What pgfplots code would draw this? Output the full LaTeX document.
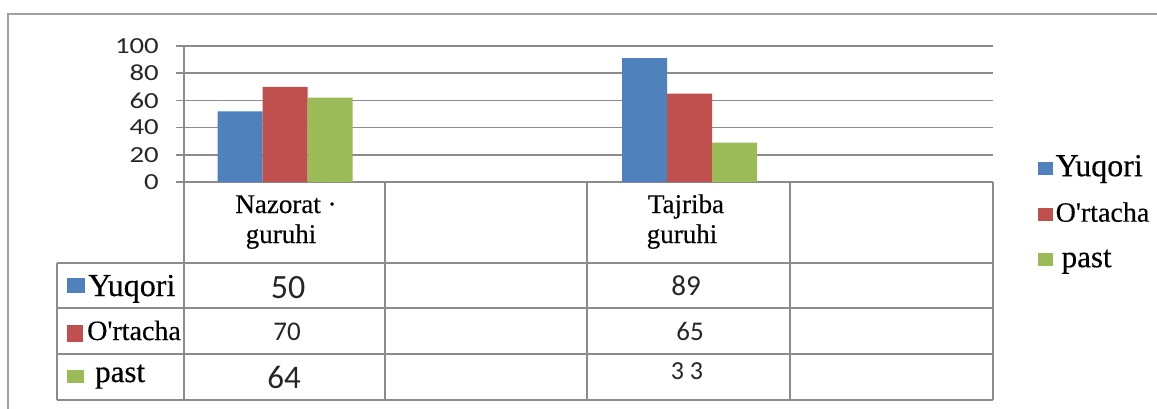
\documentclass[border=0pt]{standalone}
\usepackage{fontspec}
\setmainfont[FakeBold=0.35]{Liberation Serif}
\newfontfamily\numfont{Carlito}
\newfontfamily\tickfont[FakeStretch=1.25]{Carlito}
\usepackage{pgfplots}
\pgfplotsset{compat=1.18}
\definecolor{cblue}{HTML}{4F81BD}
\definecolor{cred}{HTML}{C0504D}
\definecolor{cgreen}{HTML}{9BBB59}
\definecolor{lgray}{RGB}{140,140,140}
\definecolor{fgray}{RGB}{160,160,160}
\begin{document}
\begin{tikzpicture}[x=1pt,y=1pt]
\useasboundingbox (0,0) rectangle (1157,408);
% outer frame (cut by the page on the right and bottom)
\draw[fgray, line width=1.5pt] (8,-5) -- (8,394) -- (1165,394);
\begin{axis}[
  at={(184pt,226pt)}, anchor=south west,
  scale only axis, width=809pt, height=136pt,
  xmin=-0.5, xmax=3.5, ymin=0, ymax=100,
  axis x line=none, axis y line*=left,
  xtick=\empty,
  ytick={0,20,40,60,80,100},
  ymajorgrids, major grid style={lgray, line width=1.5pt},
  axis line style={lgray, line width=1.5pt},
  tick style={lgray, line width=1.5pt},
  tick align=outside, major tick length=8pt,
  /pgf/number format/assume math mode=true,
  yticklabel style={font=\tickfont\fontsize{23}{23}\selectfont, text=black!85, anchor=east, inner sep=0pt, xshift=-17pt},
  ybar=0pt, bar width=45pt,
  legend style={at={(1.0556,0.2059)}, anchor=north west, draw=none, fill=none,
    inner sep=0pt, row sep=16.5pt, font=\fontsize{32}{32}\selectfont,
    nodes={inner sep=0pt, inner xsep=2.5pt, text height=22pt, text depth=7pt}},
  legend cell align=left,
]
\addplot[fill=cblue, draw=none, legend image code/.code={\fill[cblue] (0pt,-6.5pt) rectangle (15pt,6.5pt);}]
  coordinates {(0,52) (2,91)};
\addlegendentry{Yuqori}
\addplot[fill=cred, draw=none, legend image code/.code={\fill[cred] (0pt,-6.5pt) rectangle (15pt,6.5pt);}]
  coordinates {(0,70) (2,65)};
\addlegendentry{\fontsize{28}{28}\selectfont O\textquotesingle rtacha}
\addplot[fill=cgreen, draw=none, legend image code/.code={\fill[cgreen] (0pt,-6.5pt) rectangle (15pt,6.5pt);}]
  coordinates {(0,62) (2,29)};
\addlegendentry{\fontsize{31}{31}\selectfont\hspace{6pt}past}
\end{axis}
% data table grid
\begin{scope}[lgray, line width=1.5pt]
\draw (57,145) -- (993,145);
\draw (57,100) -- (993,100);
\draw (57,54) -- (993,54);
\draw (57,8) -- (993,8);
\draw (57,145) -- (57,8);
\draw (184,226) -- (184,8);
\draw (385,226) -- (385,8);
\draw (587,226) -- (587,8);
\draw (790,226) -- (790,8);
\draw (993,226) -- (993,8);
\end{scope}
% header
\begin{scope}[every node/.style={inner sep=0pt, anchor=base, font=\fontsize{27}{27}\selectfont}]
\node at (286,195) {Nazorat ·};
\node at (281,165) {guruhi};
\node at (686,195) {Tajriba};
\node at (682,165) {guruhi};
\end{scope}
% row labels
\fill[cblue] (67,115) rectangle (85,130);
\fill[cred] (67,66) rectangle (83,83);
\fill[cgreen] (67,25) rectangle (84,38);
\node[inner sep=0pt, anchor=base west, font=\fontsize{32}{32}\selectfont] at (88,112) {Yuqori};
\node[inner sep=0pt, anchor=base west, font=\fontsize{28}{28}\selectfont] at (87,68) {O\textquotesingle rtacha};
\node[inner sep=0pt, anchor=base west, font=\fontsize{31}{31}\selectfont] at (95,26) {past};
% values
\begin{scope}[every node/.style={inner sep=0pt, anchor=base, text=black!85}]
\node[font=\numfont\fontsize{34}{34}\selectfont] at (288,110) {50};
\node[font=\numfont\fontsize{27}{27}\selectfont] at (287,68) {70};
\node[font=\numfont\fontsize{33}{33}\selectfont] at (284,20) {64};
\node[font=\numfont\fontsize{29}{29}\selectfont] at (686,113) {89};
\node[font=\numfont\fontsize{27}{27}\selectfont] at (690,68) {65};
\node[font=\numfont\fontsize{26}{26}\selectfont] at (687,29) {3\kern6pt3};
\end{scope}
\end{tikzpicture}
\end{document}
